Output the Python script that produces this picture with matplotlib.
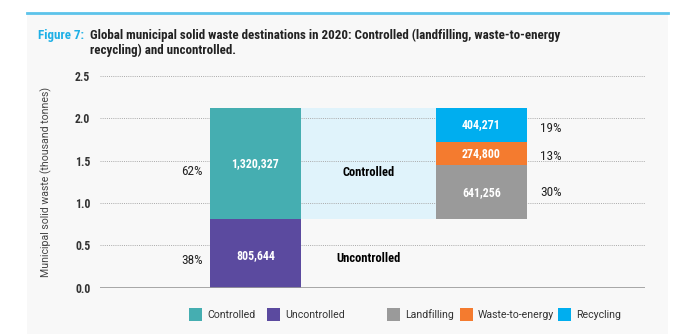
import matplotlib
matplotlib.use("Agg")
import matplotlib.pyplot as plt
from matplotlib import font_manager as fm
from matplotlib.patches import Rectangle
from matplotlib.lines import Line2D

# ---------------- data ----------------
split_labels = ["Controlled", "Uncontrolled"]
split_values = [1320327, 805644]          # thousand tonnes
detail_labels = ["Landfilling", "Waste-to-energy", "Recycling"]
detail_values = [641256, 274800, 404271]  # thousand tonnes
yticks = [0.0, 0.5, 1.0, 1.5, 2.0, 2.5]
title_prefix = "Figure 7:"
title_line1 = "Global municipal solid waste destinations in 2020: Controlled (landfilling, waste-to-energy"
title_line2 = "recycling) and uncontrolled."
ylabel = "Municipal solid waste (thousand tonnes)"

# ---------------- fonts ----------------
names = {f.name for f in fm.fontManager.ttflist}
cond = None
for cand in ["Roboto Condensed", "Liberation Sans Narrow", "Open Sans Condensed", "Noto Sans Display"]:
    if cand in names:
        cond = cand
        break
if cond is None:
    cond = "Roboto"
reg = "Roboto" if "Roboto" in names else "DejaVu Sans"

col_ctrl = "#45aeb1"
col_unc = "#5b4a9f"
col_land = "#9a9a9a"
col_wte = "#f47b2f"
col_rec = "#00aeef"
col_band = "#e0f3fb"
dark = "#222222"

W, H = 697, 334
fig = plt.figure(figsize=(W / 100, H / 100), dpi=100)
fig.patch.set_facecolor("white")

# panel background and top rule
fig.patches.append(Rectangle((27 / W, 0), (668 - 27) / W, 1 - 13 / H,
                             transform=fig.transFigure, facecolor="#f8f8f8",
                             edgecolor="none", zorder=-10))
fig.lines.append(Line2D([27 / W, 668 / W], [1 - 13 / H, 1 - 13 / H],
                        transform=fig.transFigure, color="#5cc3ea", lw=2))

ax = fig.add_axes([100 / W, 1 - 287.6 / H, (645 - 100) / W, (287.6 - 76) / H])
ax.set_facecolor("none")

scale = 1e6
unc = split_values[1] / scale
ctrl = split_values[0] / scale
grand = sum(split_values)

bw = 0.4027
x_left, x_right = 0.0, 1.0

# band between bars
ax.bar((x_left + x_right) / 2, ctrl, width=(x_right - x_left) - bw, bottom=unc,
       color=col_band, zorder=1, linewidth=0)

# grid
for t in yticks[1:]:
    ax.axhline(t, color="#aaaaaa", lw=0.7, ls=(0, (1, 1.2)), zorder=2)
ax.axhline(0, color="#999999", lw=1.2, zorder=4)

# left bar
ax.bar(x_left, unc, width=bw, color=col_unc, zorder=3, linewidth=0)
ax.bar(x_left, ctrl, width=bw, bottom=unc, color=col_ctrl, zorder=3, linewidth=0)

# right bar
det_cols = [col_land, col_wte, col_rec]
bottom = unc
mids = []
for v, c in zip(detail_values, det_cols):
    h = v / scale
    ax.bar(x_right, h, width=bw, bottom=bottom, color=c, zorder=3, linewidth=0)
    mids.append(bottom + h / 2)
    bottom += h

lab_kw = dict(ha="center", va="center", color="white", fontweight="bold",
              family=cond, fontsize=8.6, zorder=5)
ax.text(x_left, unc + ctrl / 2, f"{split_values[0]:,}", **lab_kw)
ax.annotate(f"{split_values[1]:,}", (x_left, unc / 2), xytext=(0, -1.5),
            textcoords="offset points", **lab_kw)
for m, v in zip(mids, detail_values):
    ax.text(x_right, m, f"{v:,}", **lab_kw)

pct_kw = dict(ha="center", va="center", color=dark, family=cond, fontsize=9.5, zorder=5)
ax.annotate(f"{round(100 * split_values[0] / grand)}%", (-0.281, unc + ctrl / 2),
            xytext=(0, -6), textcoords="offset points", **pct_kw)
ax.annotate(f"{round(100 * split_values[1] / grand)}%", (-0.281, unc / 2),
            xytext=(0, -5), textcoords="offset points", **pct_kw)
r_off = [0, -2, -3]
for m, v, o in zip(mids, detail_values, r_off):
    ax.annotate(f"{round(100 * v / grand)}%", (1.3075, m), xytext=(0, o),
                textcoords="offset points", **pct_kw)

band_kw = dict(ha="center", va="center", color="black", fontweight="bold",
               family=cond, fontsize=9, zorder=5, textcoords="offset points")
ax.annotate(split_labels[0], (0.5, unc + ctrl / 2), xytext=(0, -6.5), **band_kw)
ax.annotate(split_labels[1], (0.5, unc / 2), xytext=(0, -3.5), **band_kw)

ax.set_xlim(-0.688, 1.7235)
ax.set_ylim(0, 2.5)
ax.set_yticks(yticks)
ax.set_yticklabels([f"{t:.1f}" for t in yticks], family=cond, fontweight="bold",
                   fontsize=8.5, color="#333333")
ax.tick_params(axis="y", length=0, pad=7)
ax.set_xticks([])
for s in ax.spines.values():
    s.set_visible(False)

fig.text(46.7 / W, 1 - 182 / H, ylabel, rotation=90, ha="center", va="center",
         family=reg, fontsize=7.6, color="#444444")

# title
fig.text(38 / W, 1 - 35 / H, title_prefix, ha="left", va="center", color="#1fb0e6",
         family=cond, fontweight="bold", fontsize=9.4)
fig.text(90 / W, 1 - 35 / H, title_line1, ha="left", va="center", color=dark,
         family=cond, fontweight="bold", fontsize=9.4)
fig.text(90 / W, 1 - 50.5 / H, title_line2, ha="left", va="center", color=dark,
         family=cond, fontweight="bold", fontsize=9.4)

# legend (manual)
leg_items = [(split_labels[0], col_ctrl, 189), (split_labels[1], col_unc, 267),
             (detail_labels[0], col_land, 387), (detail_labels[1], col_wte, 460),
             (detail_labels[2], col_rec, 558)]
ly = 314.5
for lab, c, x0 in leg_items:
    fig.patches.append(Rectangle((x0 / W, 1 - (ly + 6.5) / H), 13 / W, 13 / H,
                                 transform=fig.transFigure, facecolor=c,
                                 edgecolor="none"))
    fig.text((x0 + 18) / W, 1 - ly / H, lab, ha="left", va="center",
             family=reg, fontsize=7.6, color="#333333")

fig.savefig("out.png", dpi=100, facecolor=fig.get_facecolor())
